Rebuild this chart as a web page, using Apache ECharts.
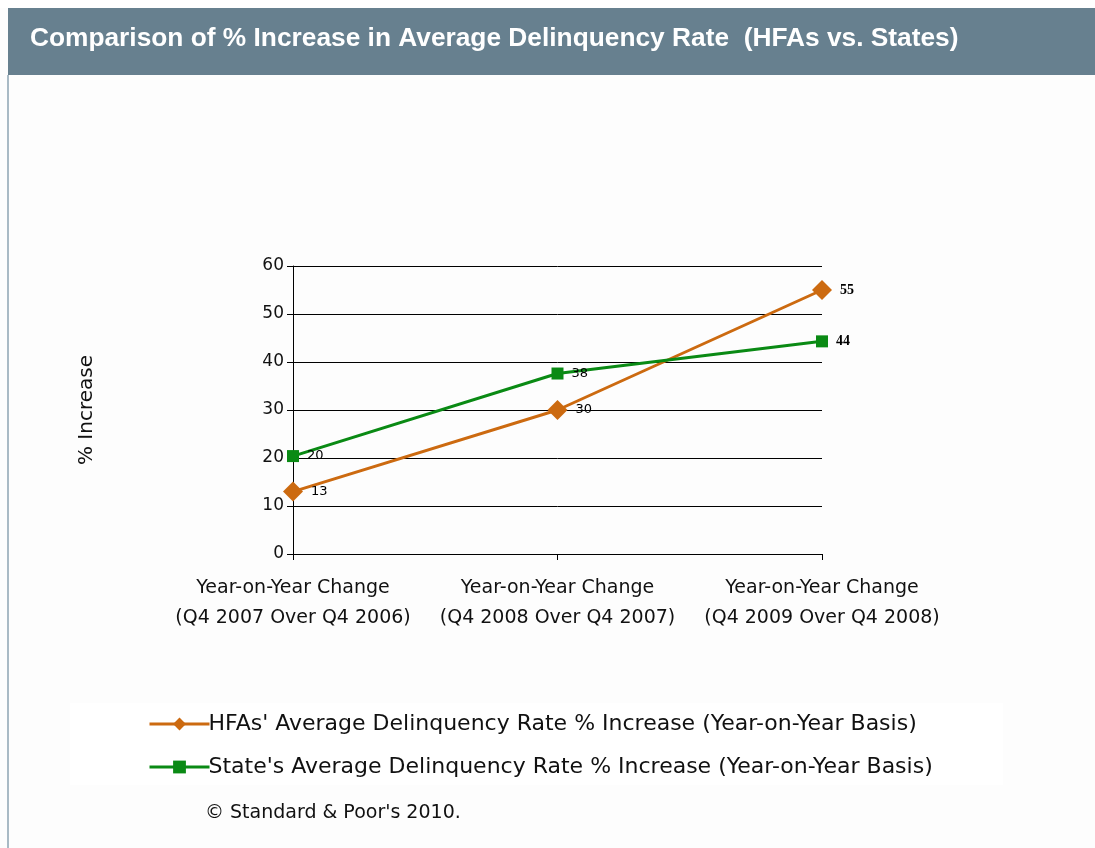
<!DOCTYPE html>
<html>
<head>
<meta charset="utf-8">
<script src="https://cdn.jsdelivr.net/npm/echarts@6/dist/echarts.min.js"></script>
<style>
html,body{margin:0;padding:0;background:#fff;}
#chart{width:1095px;height:848px;}
</style>
</head>
<body>
<div id="chart"></div>
<script>
var categories = [
  'Year-on-Year Change\n(Q4 2007 Over Q4 2006)',
  'Year-on-Year Change\n(Q4 2008 Over Q4 2007)',
  'Year-on-Year Change\n(Q4 2009 Over Q4 2008)'
];
var hfaValues = [13, 30, 55];
var stateValues = [20.4, 37.6, 44.3];
var seriesNames = [
  "HFAs' Average Delinquency Rate % Increase (Year-on-Year Basis)",
  "State's Average Delinquency Rate % Increase (Year-on-Year Basis)"
];
var titleText = 'Comparison of % Increase in Average Delinquency Rate  (HFAs vs. States)';
var yAxisName = '% Increase';
var footnote = '\u00A9 Standard & Poor\'s 2010.';

var chart = echarts.init(document.getElementById('chart'), null, {renderer: 'canvas'});
var FONT = '"DejaVu Sans", Verdana, sans-serif';
var TFONT = 'Arial, "Liberation Sans", sans-serif';

var labelStyle = {
  show: true,
  position: 'right',
  distance: 8,
  fontFamily: FONT,
  fontSize: 13,
  color: '#000',
  formatter: function (p) {
    var v = Math.round(p.value);
    return p.dataIndex === 2 ? '{b|' + v + '}' : String(v);
  },
  rich: {
    b: {fontFamily: '"Liberation Serif", "DejaVu Serif", serif', fontWeight: 'bold', fontSize: 14, color: '#000'}
  }
};

chart.setOption({
  animation: false,
  backgroundColor: '#fdfdfd',
  graphic: [
    {type: 'rect', shape: {x: 0, y: 0, width: 1095, height: 8}, style: {fill: '#ffffff'}, z: 0},
    {type: 'rect', shape: {x: 8, y: 8, width: 1087, height: 67}, style: {fill: '#67808f'}, z: 1},
    {type: 'rect', shape: {x: 7, y: 75, width: 2, height: 773}, style: {fill: '#a9bac5'}, z: 1},
    {type: 'rect', shape: {x: 70, y: 703, width: 933, height: 82}, style: {fill: '#ffffff'}, z: 0},
    {type: 'text', left: 30, top: 26, z: 2,
      style: {text: titleText, fill: '#ffffff', font: 'bold 26.3px ' + TFONT}},
    {type: 'text', left: 205, top: 804, z: 2,
      style: {text: footnote, fill: '#111', font: '19px ' + FONT}}
  ],
  grid: {left: 293, right: 273, top: 266, bottom: 294, containLabel: false},
  legend: {
    orient: 'vertical',
    left: 143,
    top: 708,
    itemWidth: 60,
    itemHeight: 16,
    itemGap: 21,
    lineStyle: {width: 3},
    textStyle: {fontFamily: FONT, fontSize: 22, color: '#111', padding: [0, 0, 0, -6]},
    data: seriesNames
  },
  xAxis: {
    type: 'category',
    data: categories,
    boundaryGap: false,
    axisLine: {lineStyle: {color: '#000', width: 1}},
    axisTick: {show: true, alignWithLabel: true, length: 6, lineStyle: {color: '#000'}},
    axisLabel: {fontFamily: FONT, fontSize: 19, color: '#111', lineHeight: 30, margin: 19, interval: 0},
    splitLine: {show: false}
  },
  yAxis: {
    type: 'value',
    min: 0, max: 60, interval: 10,
    name: yAxisName,
    nameLocation: 'middle',
    nameGap: 196,
    nameRotate: 90,
    nameTextStyle: {fontFamily: FONT, fontSize: 20, color: '#111'},
    axisLine: {show: true, lineStyle: {color: '#000', width: 1}},
    axisTick: {show: true, length: 6, lineStyle: {color: '#000'}},
    axisLabel: {fontFamily: FONT, fontSize: 17, color: '#111', margin: 9},
    splitLine: {show: true, lineStyle: {color: '#000', width: 1}}
  },
  series: [
    {
      name: seriesNames[0],
      type: 'line',
      data: hfaValues,
      symbol: 'diamond',
      symbolSize: 20,
      lineStyle: {color: '#cc6a10', width: 3},
      itemStyle: {color: '#cc6a10'},
      label: labelStyle,
      z: 3
    },
    {
      name: seriesNames[1],
      type: 'line',
      data: stateValues,
      symbol: 'rect',
      symbolSize: 12,
      lineStyle: {color: '#0a8a14', width: 3},
      itemStyle: {color: '#0a8a14'},
      label: labelStyle,
      z: 3
    }
  ]
});
</script>
</body>
</html>
